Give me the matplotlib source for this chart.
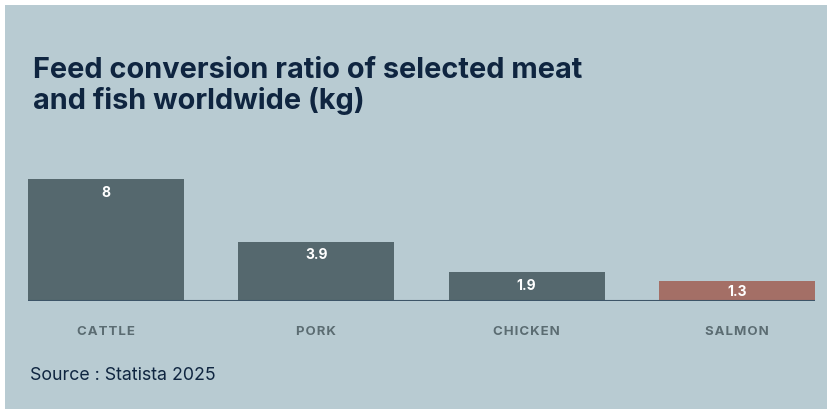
import matplotlib.pyplot as plt
from matplotlib.patches import Rectangle

# data
categories = ['CATTLE', 'PORK', 'CHICKEN', 'SALMON']
values = [8, 3.9, 1.9, 1.3]
labels = ['8', '3.9', '1.9', '1.3']
colors = ['#55686e', '#55686e', '#55686e', '#a46f66']

bg = '#b8cbd2'
navy = '#0f2540'

fig = plt.figure(figsize=(8.28, 4.10), dpi=100)
fig.patch.set_facecolor('white')
fig.patches.append(Rectangle((5 / 828, 0), 1, 1 - 6 / 410, transform=fig.transFigure,
                             facecolor=bg, edgecolor='none', zorder=-1))

w = 0.743
ax = fig.add_axes([28 / 828, (410 - 302) / 410, (815 - 28) / 828, (302 - 180) / 410])
ax.set_zorder(2)
ax.set_facecolor('none')
x = range(len(categories))
bars = ax.bar(x, values, width=w, color=colors, zorder=2)
ax.set_xlim(-w / 2, len(categories) - 1 + w / 2)
ax.set_ylim(0, 8)
ax.axhline(0, color='#3d5568', lw=1.5, zorder=3)

# value labels sit ~13px under the bar top, or mid-bar when the bar is short
drop = 0.85
for b, lab, v in zip(bars, labels, values):
    ax.text(b.get_x() + b.get_width() / 2, v - min(drop, v / 2), lab,
            ha='center', va='center', color='white', fontsize=10,
            fontweight='bold', family='Inter')

for spine in ax.spines.values():
    spine.set_visible(False)
ax.set_yticks([])
ax.set_xticks(list(x))
ax.set_xticklabels(['\u200a'.join(c) for c in categories], color='#5b6c72',
                   fontsize=9.5, fontweight='bold', family='Inter')
ax.tick_params(axis='x', length=0, pad=17)

fig.text(33 / 828, 1 - 86 / 410, 'Feed conversion ratio of selected meat\nand fish worldwide (kg)',
         ha='left', va='center', fontsize=20.8, fontweight='bold', family='Inter',
         color=navy, linespacing=1.12, zorder=3)
fig.text(30 / 828, 1 - 376 / 410, 'Source : Statista 2025', ha='left', va='center',
         fontsize=12.8, family='Inter', color=navy, zorder=3)

fig.savefig('out.png', dpi=100)
